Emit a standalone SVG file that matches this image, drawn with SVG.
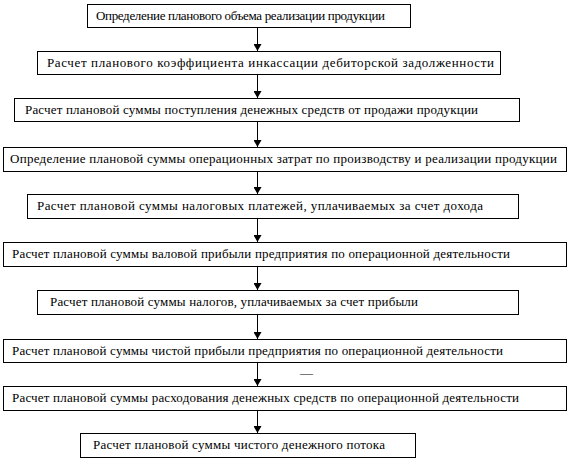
<svg xmlns="http://www.w3.org/2000/svg" width="572" height="463" viewBox="0 0 572 463">
<style>
.box{fill:#fff;stroke:#000;stroke-width:1}
.t{font-family:"Liberation Serif","Times New Roman",serif;font-size:13px;fill:#000}
.c{stroke:#000;stroke-width:1;fill:none}
</style>
<defs>
<marker id="ah" markerWidth="8" markerHeight="8" refX="7" refY="4" orient="auto" markerUnits="userSpaceOnUse">
<path d="M0,0 L7,4 L0,8 Z" fill="#000"/>
</marker>
</defs>
<rect width="572" height="463" fill="#fff"/>
<g id="connectors">
<line class="c" x1="257.5" y1="27" x2="257.5" y2="51" marker-end="url(#ah)"/>
<line class="c" x1="257.5" y1="74" x2="257.5" y2="98" marker-end="url(#ah)"/>
<line class="c" x1="257.5" y1="121" x2="257.5" y2="147" marker-end="url(#ah)"/>
<line class="c" x1="257.5" y1="171" x2="257.5" y2="194" marker-end="url(#ah)"/>
<line class="c" x1="257.5" y1="218" x2="257.5" y2="242" marker-end="url(#ah)"/>
<line class="c" x1="257.5" y1="266" x2="257.5" y2="290" marker-end="url(#ah)"/>
<line class="c" x1="257.5" y1="314" x2="257.5" y2="339" marker-end="url(#ah)"/>
<line class="c" x1="257.5" y1="362" x2="257.5" y2="386" marker-end="url(#ah)"/>
<line class="c" x1="257.5" y1="410" x2="257.5" y2="433" marker-end="url(#ah)"/>
</g>
<g id="n1"><rect class="box" x="87.5" y="4.5" width="323" height="23"/><text class="t" x="96" y="20" textLength="289">Определение планового объема реализации продукции</text></g>
<g id="n2"><rect class="box" x="37.5" y="51.5" width="463" height="23"/><text class="t" x="47" y="67" textLength="447">Расчет планового коэффициента инкассации дебиторской задолженности</text></g>
<g id="n3"><rect class="box" x="14.5" y="98.5" width="505" height="23"/><text class="t" x="25" y="114" textLength="453">Расчет плановой суммы поступления денежных средств от продажи продукции</text></g>
<g id="n4"><rect class="box" x="3.5" y="147.5" width="563" height="24"/><text class="t" x="10" y="163" textLength="547">Определение плановой суммы операционных затрат по производству и реализации продукции</text></g>
<g id="n5"><rect class="box" x="27.5" y="194.5" width="491" height="24"/><text class="t" x="37" y="210" textLength="446">Расчет плановой суммы налоговых платежей, уплачиваемых за счет дохода</text></g>
<g id="n6"><rect class="box" x="3.5" y="242.5" width="563" height="24"/><text class="t" x="12" y="258" textLength="498">Расчет плановой суммы валовой прибыли предприятия по операционной деятельности</text></g>
<g id="n7"><rect class="box" x="37.5" y="290.5" width="481" height="24"/><text class="t" x="50" y="306" textLength="368">Расчет плановой суммы налогов, уплачиваемых за  счет прибыли</text></g>
<g id="n8"><rect class="box" x="3.5" y="339.5" width="563" height="23"/><text class="t" x="12" y="355" textLength="491">Расчет плановой суммы чистой прибыли предприятия по операционной деятельности</text></g>
<text class="t" x="300" y="377">—</text>
<g id="n9"><rect class="box" x="3.5" y="386.5" width="563" height="24"/><text class="t" x="12" y="402" textLength="507">Расчет плановой суммы расходования денежных средств по операционной деятельности</text></g>
<g id="n10"><rect class="box" x="80.5" y="433.5" width="335" height="24"/><text class="t" x="93" y="449" textLength="292">Расчет плановой суммы чистого денежного потока</text></g>
</svg>
